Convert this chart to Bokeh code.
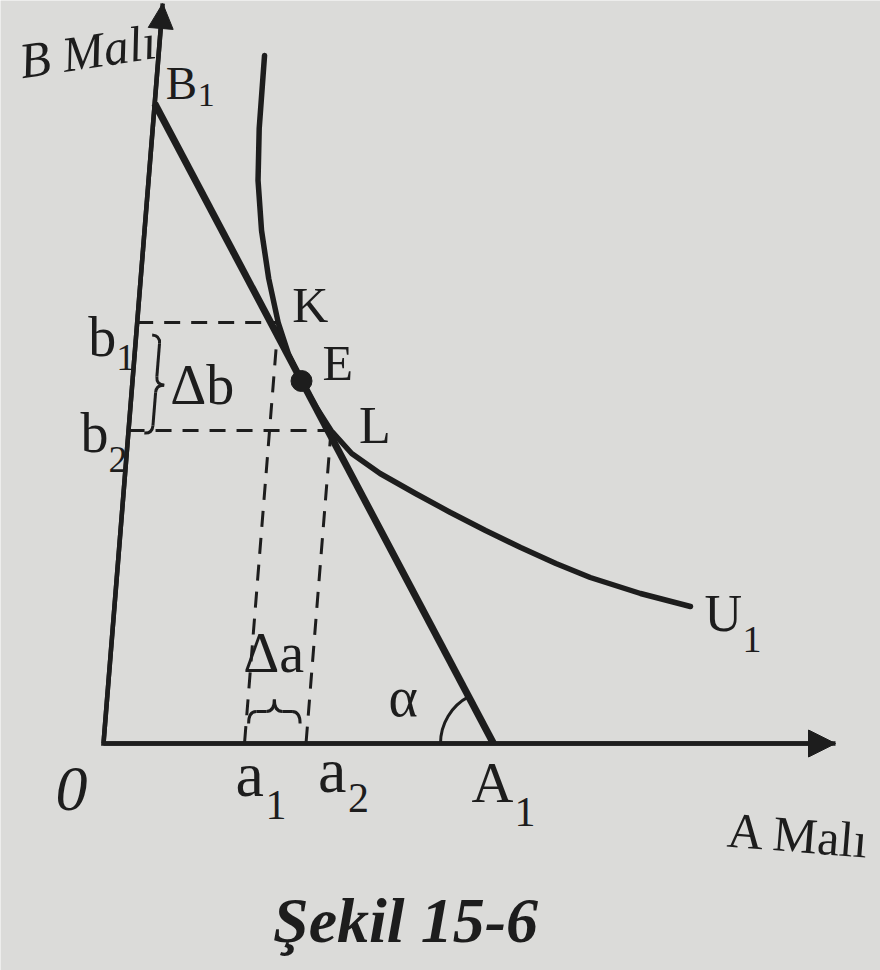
import numpy as np
from bokeh.plotting import figure
from bokeh.models import Range1d, Arrow, NormalHead
from bokeh.core.properties import value
from bokeh.embed import file_html
from bokeh.resources import INLINE

# ---------------------------------------------------------------
# Data (quantities of good A and good B)
# ---------------------------------------------------------------
# Indifference curve U1, as (A, B) pairs
u1_a = [2.12, 2.13, 2.19, 2.34, 2.56, 2.82, 3.08, 3.38, 3.72, 4.05,
        4.50, 5.10, 5.84, 6.57, 7.30, 8.03, 8.76, 9.47, 10.50, 11.52]
u1_b = [13.76, 12.30, 11.26, 10.26, 9.30, 8.42, 7.78, 7.25, 6.72, 6.26,
        5.80, 5.40, 5.00, 4.62, 4.26, 3.92, 3.60, 3.32, 3.00, 2.74]

# Budget line: intercepts B1 (on the B axis) and A1 (on the A axis)
budget_a = [0.0, 7.8]
budget_b = [12.8, 0.0]

# Points K, E, L on the curve
point_names = ["K", "E", "L"]
point_a = [2.82, 3.38, 4.05]
point_b = [8.42, 7.25, 6.26]

# Axis lengths
axis_len_a = 14.64
axis_len_b = 14.8

# ---------------------------------------------------------------
# Drawing setup
# ---------------------------------------------------------------
W, H = 880, 970
PAPER = "#dbdbd9"
INK = "#1d1d1d"
FONT = "Liberation Serif"

ORIGIN_X, ORIGIN_Y = 103, 227   # where the axes meet on the sheet (px)
UNIT = 50                        # px per unit of each good
LEAN = 4.0                       # the B axis leans right by this many px per unit


def page(a, b):
    a = np.asarray(a, dtype=float)
    b = np.asarray(b, dtype=float)
    return ORIGIN_X + UNIT * a + LEAN * b, ORIGIN_Y + UNIT * b


p = figure(width=W, height=H, x_range=Range1d(0, W), y_range=Range1d(0, H),
           x_axis_location=None, y_axis_location=None, toolbar_location=None,
           output_backend="svg", min_border=0, outline_line_color=None,
           background_fill_color=PAPER, border_fill_color=PAPER)
p.grid.visible = False

# Axes with arrow heads
ax_x, ax_y = page([0, 0, axis_len_a], [axis_len_b, 0, 0])
p.line(ax_x, ax_y, line_width=4.5, color=INK, line_join="miter")
ox, oy = page(0, 0)
tx, ty = page(0, axis_len_b)
rx, ry = page(axis_len_a, 0)
p.add_layout(Arrow(end=NormalHead(size=25, fill_color=INK, line_color=INK),
                   x_start=float(ox), y_start=float(oy), x_end=float(tx), y_end=float(ty),
                   line_width=4.5, line_color=INK))
p.add_layout(Arrow(end=NormalHead(size=27, fill_color=INK, line_color=INK),
                   x_start=float(ox), y_start=float(oy), x_end=float(rx), y_end=float(ry),
                   line_width=4.5, line_color=INK))

# Dashed guides from K and L to both axes
K_a, E_a, L_a = point_a
K_b, E_b, L_b = point_b
for pa, pb in [(K_a, K_b), (L_a, L_b)]:
    hx, hy = page([0, pa], [pb, pb])
    p.line(hx, hy, line_dash="16 11", line_width=3, color=INK)
    vx, vy = page([pa, pa], [pb, 0])
    p.line(vx, vy, line_dash="16 11", line_width=3, color=INK)

# Budget line and indifference curve
bx, by = page(budget_a, budget_b)
p.line(bx, by, line_width=7, color=INK)
cx, cy = page(u1_a, u1_b)
p.line(cx, cy, line_width=5.5, color=INK, line_join="round", line_cap="round")

# Tangency point E
ex, ey = page([E_a], [E_b])
p.scatter(ex, ey, size=21, color=INK)


# Curly braces built from quadratic curves and straight pieces
def brace(p0, p1, depth, r):
    p0 = np.asarray(p0, float)
    p1 = np.asarray(p1, float)
    u = (p1 - p0) / np.linalg.norm(p1 - p0)
    n = np.array([-u[1], u[0]])
    m = (p0 + p1) / 2
    h = n * depth / 2
    curves = [(p0, p0 + h + u * r, p0 + h),
              (m + h - u * r, m + 2 * h, m + h),
              (m + 2 * h, m + h + u * r, m + h),
              (p1 + h - u * r, p1, p1 + h)]
    pieces = [(p0 + h + u * r, m + h - u * r), (m + h + u * r, p1 + h - u * r)]
    for s, e, c in curves:
        p.quadratic(x0=[s[0]], y0=[s[1]], x1=[e[0]], y1=[e[1]],
                    cx=[c[0]], cy=[c[1]], line_width=3, line_color=INK)
    for s, e in pieces:
        p.segment(x0=[s[0]], y0=[s[1]], x1=[e[0]], y1=[e[1]],
                  line_width=3, line_color=INK)
    return m + 2 * h


# Delta-b brace beside the B axis, delta-a brace above the A axis
gap = 16
tb = page(0, K_b - 0.25)
bb = page(0, L_b - 0.05)
tip_b = brace((float(tb[0]) + gap, float(tb[1])), (float(bb[0]) + gap, float(bb[1])), 16, 8)
la = page(K_a + 0.05, 0.4)
ra = page(L_a - 0.15, 0.4)
tip_a = brace((float(la[0]), float(la[1])), (float(ra[0]), float(ra[1])), 24, 8)

# Angle alpha at A1
a1x, a1y = page(budget_a[1], 0)
b1x, b1y = page(0, budget_b[0])
theta = float(np.arctan2(b1y - a1y, b1x - a1x))
p.arc(x=[float(a1x)], y=[float(a1y)], radius=53, radius_units="screen",
      start_angle=theta, end_angle=np.pi, line_width=3, line_color=INK)

# Labels: anchor (px), offset right/down to the text's left baseline (px)
SINK = 0.36   # lifts text so its alphabetic baseline lands on the given y


def put(txt, anchor, dx, dy, size, style="normal", align="left", angle=0.0):
    x = float(anchor[0]) + dx
    y = float(anchor[1]) - dy + SINK * size
    p.text(x=[x], y=[y], text=[txt], text_font=value(FONT),
           text_font_size=f"{size}px", text_font_style=style, text_color=INK,
           text_align=align, text_baseline="alphabetic", angle=angle)


top_b = page(0, axis_len_b)
end_a = page(axis_len_a, 0)
origin = page(0, 0)
B1_pt = page(0, budget_b[0])
A1_pt = page(budget_a[1], 0)
K_pt = page(K_a, K_b)
E_pt = page(E_a, E_b)
L_pt = page(L_a, L_b)
b1_pt = page(0, K_b)
b2_pt = page(0, L_b)
a1_pt = page(K_a, 0)
a2_pt = page(L_a, 0)
U_end = page(u1_a[-1], u1_b[-1])

put("B Malı", top_b, -143, 76, 50, "italic", angle=0.15)
put("B", B1_pt, 11, -4, 47)
put("1", B1_pt, 43, 4, 34)
put(point_names[0], K_pt, 14, 0, 50)
put(point_names[1], E_pt, 21, 0, 50)
put(point_names[2], L_pt, 28, 14, 52)
put("b", b1_pt, -49, 35, 56)
put("1", b1_pt, -21, 49, 38)
put("b", b2_pt, -48, 23, 56)
put("2", b2_pt, -20, 43, 38)
put("Δb", tip_b, 6, 20, 56)
put("Δa", tip_a, -31, -26, 56)
put("α", A1_pt, -105, -26, 56)
put("a", a1_pt, -9, 54, 64)
put("1", a1_pt, 21, 77, 42)
put("a", a2_pt, 12, 50, 64)
put("2", a2_pt, 42, 70, 42)
put("A", A1_pt, -22, 60, 58)
put("1", A1_pt, 21, 84, 42)
put("0", origin, -48, 69, 64, "italic")
put("U", U_end, 14, 26, 52)
put("1", U_end, 52, 47, 38)
put("A Malı", end_a, -108, 104, 50, angle=-0.08)
put("Şekil 15-6", origin, 302, 200, 64, "bold italic", align="center")

open("out.html", "w").write(file_html(p, INLINE))
